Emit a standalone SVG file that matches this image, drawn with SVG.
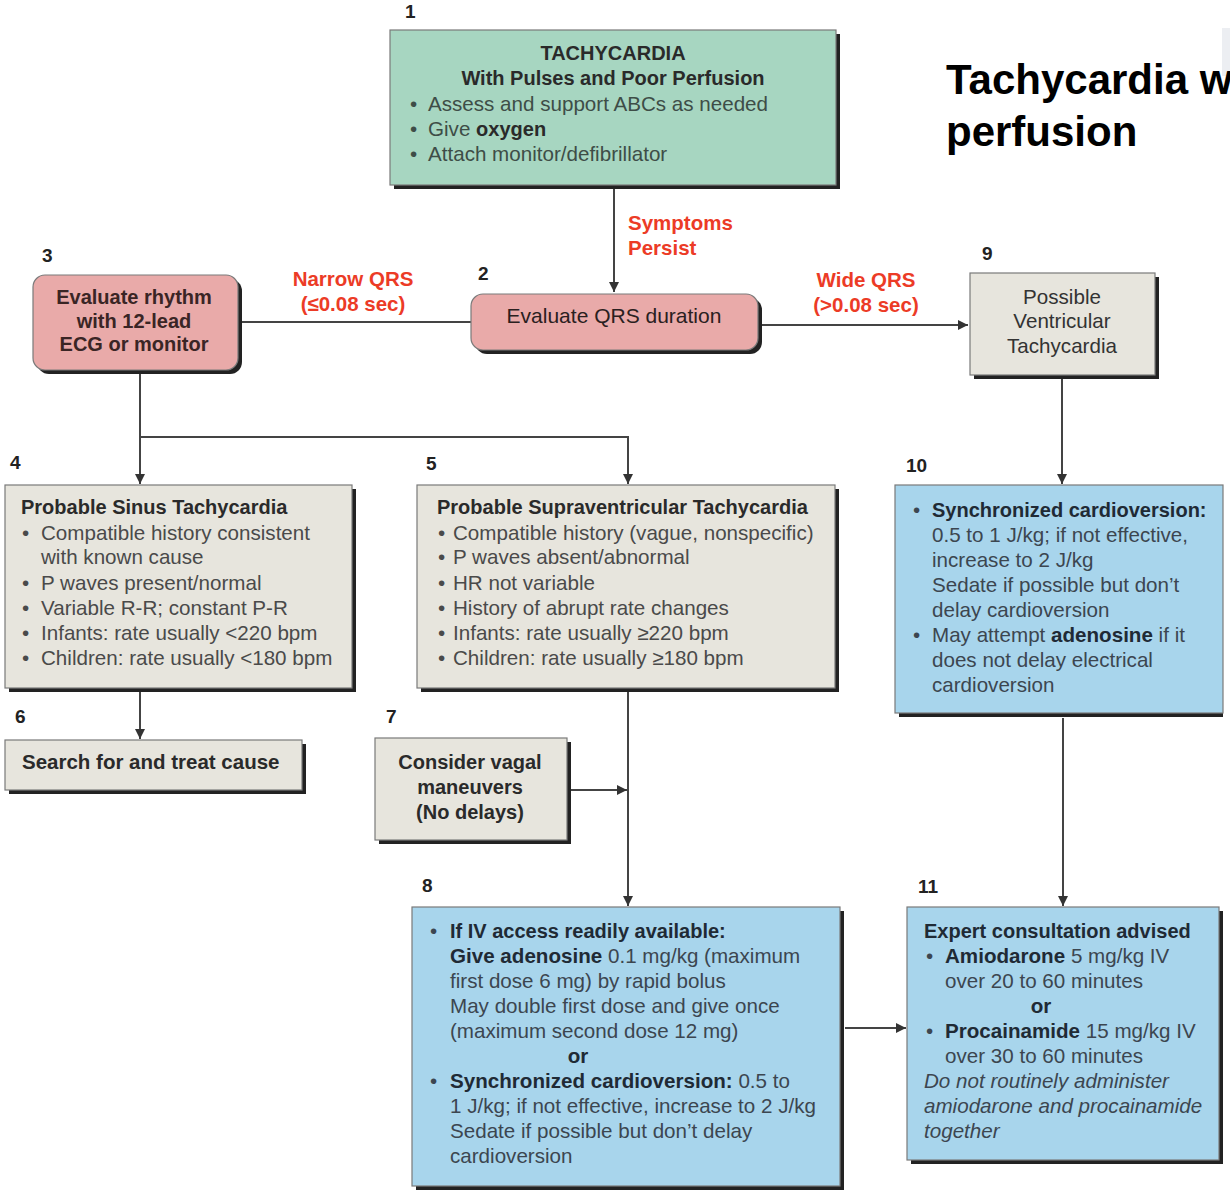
<svg xmlns="http://www.w3.org/2000/svg" width="1230" height="1195" viewBox="0 0 1230 1195">
<defs>
<style>
text{font-family:"Liberation Sans",Arial,sans-serif;font-size:20.6px;fill:#4a4a4a}
.b{font-weight:bold;fill:#2a2a2a;font-size:20px}
.n{font-weight:bold;font-size:19px;fill:#222}
.r{font-weight:bold;font-size:20.5px;fill:#ec3b26}
.c{text-anchor:middle}
.i{font-style:italic}
.sh{fill:#222}
.bx{stroke:#7a7a7a;stroke-width:1.2}
.g{fill:#a7d6c1}
.p{fill:#e9aaa9}
.y{fill:#e7e5dd}
.u{fill:#a8d5ec}
.ln{fill:none;stroke:#444;stroke-width:2}
.bl{fill:#3c4650}
.bt{fill:#1f2a35;font-weight:bold}
.gt{fill:#3e4d47}
.title{font-size:42px;font-weight:bold;fill:#000}
</style>
<marker id="ah" viewBox="0 0 10 10" refX="10" refY="5" markerWidth="10" markerHeight="10" markerUnits="userSpaceOnUse" orient="auto">
<path d="M0,0 L10,5 L0,10 z" fill="#333"/>
</marker>
</defs>
<rect width="1230" height="1195" fill="#fff"/>
<rect x="1222" y="28" width="8" height="48" fill="#eceef2"/>
<g id="title">
<text class="title" x="946" y="94">Tachycardia w</text>
<text class="title" x="946" y="146">perfusion</text>
</g>
<g id="connectors">
<line class="ln" x1="614" y1="189" x2="614" y2="292" marker-end="url(#ah)"/>
<line class="ln" x1="240" y1="322" x2="471" y2="322"/>
<line class="ln" x1="760" y1="325" x2="968" y2="325" marker-end="url(#ah)"/>
<line class="ln" x1="140" y1="374" x2="140" y2="484" marker-end="url(#ah)"/>
<path class="ln" d="M140,437 H628 V484" marker-end="url(#ah)"/>
<line class="ln" x1="140" y1="692" x2="140" y2="739" marker-end="url(#ah)"/>
<line class="ln" x1="628" y1="692" x2="628" y2="906" marker-end="url(#ah)"/>
<line class="ln" x1="570" y1="790" x2="627" y2="790" marker-end="url(#ah)"/>
<line class="ln" x1="1062" y1="379" x2="1062" y2="484" marker-end="url(#ah)"/>
<line class="ln" x1="1063" y1="718" x2="1063" y2="906" marker-end="url(#ah)"/>
<line class="ln" x1="845" y1="1028" x2="906" y2="1028" marker-end="url(#ah)"/>
<text class="r" x="628" y="230">Symptoms</text>
<text class="r" x="628" y="255">Persist</text>
<text class="r c" x="353" y="286">Narrow QRS</text>
<text class="r c" x="353" y="311">(≤0.08 sec)</text>
<text class="r c" x="866" y="287">Wide QRS</text>
<text class="r c" x="866" y="312">(&gt;0.08 sec)</text>
</g>
<g id="node1">
<text class="n" x="405" y="18">1</text>
<rect class="sh" x="394" y="34" width="446" height="155"/>
<rect class="bx g" x="390" y="30" width="446" height="155"/>
<text class="b c" x="613" y="60">TACHYCARDIA</text>
<text class="b c" x="613" y="85">With Pulses and Poor Perfusion</text>
<text class="gt" x="410" y="111">•</text><text class="gt" x="428" y="111">Assess and support ABCs as needed</text>
<text class="gt" x="410" y="136">•</text><text class="gt" x="428" y="136">Give <tspan class="b">oxygen</tspan></text>
<text class="gt" x="410" y="161">•</text><text class="gt" x="428" y="161">Attach monitor/defibrillator</text>
</g>
<g id="node2">
<text class="n" x="478" y="280">2</text>
<rect class="sh" x="475" y="298" width="287" height="56" rx="12"/>
<rect class="bx p" x="471" y="294" width="287" height="56" rx="12"/>
<text class="c" x="614" y="323" style="fill:#2a2020;font-size:21px">Evaluate QRS duration</text>
</g>
<g id="node3">
<text class="n" x="42" y="262">3</text>
<rect class="sh" x="37" y="279" width="205" height="95" rx="12"/>
<rect class="bx p" x="33" y="275" width="205" height="95" rx="12"/>
<text class="b c" x="134" y="304" style="fill:#3a2525">Evaluate rhythm</text>
<text class="b c" x="134" y="328" style="fill:#3a2525">with 12-lead</text>
<text class="b c" x="134" y="351" style="fill:#3a2525">ECG or monitor</text>
</g>
<g id="node9">
<text class="n" x="982" y="260">9</text>
<rect class="sh" x="974" y="277" width="185" height="102"/>
<rect class="bx y" x="970" y="273" width="185" height="102"/>
<text class="c" x="1062" y="304" style="fill:#333">Possible</text>
<text class="c" x="1062" y="328" style="fill:#333">Ventricular</text>
<text class="c" x="1062" y="353" style="fill:#333">Tachycardia</text>
</g>
<g id="node4">
<text class="n" x="10" y="469">4</text>
<rect class="sh" x="9" y="489" width="347" height="203"/>
<rect class="bx y" x="5" y="485" width="347" height="203"/>
<text class="b" x="21" y="514">Probable Sinus Tachycardia</text>
<text x="22" y="540">•</text><text x="41" y="540">Compatible history consistent</text>
<text x="41" y="564">with known cause</text>
<text x="22" y="590">•</text><text x="41" y="590">P waves present/normal</text>
<text x="22" y="615">•</text><text x="41" y="615">Variable R-R; constant P-R</text>
<text x="22" y="640">•</text><text x="41" y="640">Infants: rate usually &lt;220 bpm</text>
<text x="22" y="665">•</text><text x="41" y="665">Children: rate usually &lt;180 bpm</text>
</g>
<g id="node5">
<text class="n" x="426" y="470">5</text>
<rect class="sh" x="421" y="489" width="418" height="203"/>
<rect class="bx y" x="417" y="485" width="418" height="203"/>
<text class="b" x="437" y="514" style="font-size:20px">Probable Supraventricular Tachycardia</text>
<text x="438" y="540">•</text><text x="453" y="540">Compatible history (vague, nonspecific)</text>
<text x="438" y="564">•</text><text x="453" y="564">P waves absent/abnormal</text>
<text x="438" y="590">•</text><text x="453" y="590">HR not variable</text>
<text x="438" y="615">•</text><text x="453" y="615">History of abrupt rate changes</text>
<text x="438" y="640">•</text><text x="453" y="640">Infants: rate usually ≥220 bpm</text>
<text x="438" y="665">•</text><text x="453" y="665">Children: rate usually ≥180 bpm</text>
</g>
<g id="node6">
<text class="n" x="15" y="723">6</text>
<rect class="sh" x="9" y="744" width="297" height="50"/>
<rect class="bx y" x="5" y="740" width="297" height="50"/>
<text class="b" x="22" y="769" style="font-size:20.5px">Search for and treat cause</text>
</g>
<g id="node7">
<text class="n" x="386" y="723">7</text>
<rect class="sh" x="379" y="742" width="192" height="102"/>
<rect class="bx y" x="375" y="738" width="192" height="102"/>
<text class="b c" x="470" y="769">Consider vagal</text>
<text class="b c" x="470" y="794">maneuvers</text>
<text class="b c" x="470" y="819">(No delays)</text>
</g>
<g id="node10">
<text class="n" x="906" y="472">10</text>
<rect class="sh" x="899" y="489" width="324" height="228"/>
<rect class="bx u" x="895" y="485" width="328" height="228"/>
<text class="bl" x="913" y="517">•</text><text class="bt" x="932" y="517" style="font-size:20px">Synchronized cardioversion:</text>
<text class="bl" x="932" y="542">0.5 to 1 J/kg; if not effective,</text>
<text class="bl" x="932" y="567">increase to 2 J/kg</text>
<text class="bl" x="932" y="592">Sedate if possible but don’t</text>
<text class="bl" x="932" y="617">delay cardioversion</text>
<text class="bl" x="913" y="642">•</text><text class="bl" x="932" y="642">May attempt <tspan class="bt">adenosine</tspan> if it</text>
<text class="bl" x="932" y="667">does not delay electrical</text>
<text class="bl" x="932" y="692">cardioversion</text>
</g>
<g id="node8">
<text class="n" x="422" y="892">8</text>
<rect class="sh" x="416" y="911" width="428" height="279"/>
<rect class="bx u" x="412" y="907" width="428" height="279"/>
<text class="bl" x="430" y="938">•</text><text class="bt" x="450" y="938" style="font-size:20px">If IV access readily available:</text>
<text class="bl" x="450" y="963"><tspan class="bt">Give adenosine</tspan> 0.1 mg/kg (maximum</text>
<text class="bl" x="450" y="988">first dose 6 mg) by rapid bolus</text>
<text class="bl" x="450" y="1013">May double first dose and give once</text>
<text class="bl" x="450" y="1038">(maximum second dose 12 mg)</text>
<text class="bt c" x="578" y="1063">or</text>
<text class="bl" x="430" y="1088">•</text><text class="bl" x="450" y="1088"><tspan class="bt">Synchronized cardioversion:</tspan> 0.5 to</text>
<text class="bl" x="450" y="1113">1 J/kg; if not effective, increase to 2 J/kg</text>
<text class="bl" x="450" y="1138">Sedate if possible but don’t delay</text>
<text class="bl" x="450" y="1163">cardioversion</text>
</g>
<g id="node11">
<text class="n" x="918" y="893">11</text>
<rect class="sh" x="911" y="911" width="312" height="253"/>
<rect class="bx u" x="907" y="907" width="312" height="253"/>
<text class="bt" x="924" y="938" style="font-size:20px">Expert consultation advised</text>
<text class="bl" x="926" y="963">•</text><text class="bl" x="945" y="963"><tspan class="bt">Amiodarone</tspan> 5 mg/kg IV</text>
<text class="bl" x="945" y="988">over 20 to 60 minutes</text>
<text class="bt c" x="1041" y="1013">or</text>
<text class="bl" x="926" y="1038">•</text><text class="bl" x="945" y="1038"><tspan class="bt">Procainamide</tspan> 15 mg/kg IV</text>
<text class="bl" x="945" y="1063">over 30 to 60 minutes</text>
<text class="bl i" x="924" y="1088">Do not routinely administer</text>
<text class="bl i" x="924" y="1113">amiodarone and procainamide</text>
<text class="bl i" x="924" y="1138">together</text>
</g>
</svg>
